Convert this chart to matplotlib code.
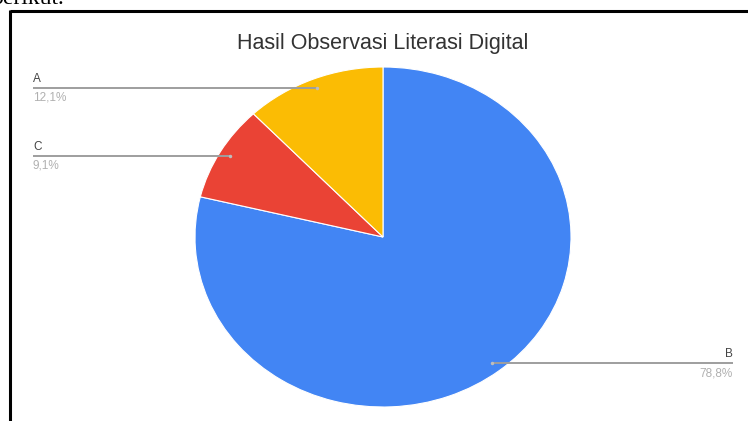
import numpy as np
import matplotlib
matplotlib.use("Agg")
import matplotlib.pyplot as plt

title = "Hasil Observasi Literasi Digital"
categories = ["B", "C", "A"]
values = [78.8, 9.1, 12.1]
pct_labels = ["78,8%", "9,1%", "12,1%"]
colors = ["#4285f4", "#ea4335", "#fbbc04"]

W, H = 748, 421
fig = plt.figure(figsize=(W / 100, H / 100), dpi=100)
fig.patch.set_facecolor("white")

# pie axes (ellipse due to stretched screenshot)
cx, cy, rx, ry = 383, 237, 188, 170
axp = fig.add_axes([(cx - rx) / W, (H - cy - ry) / H, 2 * rx / W, 2 * ry / H])
wedges, _ = axp.pie(values, colors=colors, startangle=90, counterclock=False,
                    wedgeprops=dict(edgecolor="white", linewidth=0.8))
axp.set_aspect("auto")
axp.set_xlim(-1, 1)
axp.set_ylim(-1, 1)
axp.axis("off")

# overlay in pixel coordinates
ov = fig.add_axes([0, 0, 1, 1], zorder=5)
ov.set_xlim(0, W)
ov.set_ylim(H, 0)
ov.axis("off")
ov.patch.set_alpha(0)

fam = ["Liberation Sans", "DejaVu Sans"]
ov.text(cx, 43, title, ha="center", va="center", fontsize=15.5, color="#333333", family=fam)

# label anchors: (x end of line, y of line, side)
label_pos = {"A": (33, 87.5, "left"), "C": (33, 156, "left"), "B": (733, 363, "right")}

total = sum(values)
start = 90.0
fig.canvas.draw()
for cat, v, pct in zip(categories, values, pct_labels):
    ang = start - v / total * 360 / 2
    start -= v / total * 360
    px, py = 0.94 * np.cos(np.radians(ang)), 0.94 * np.sin(np.radians(ang))
    dx, dy = axp.transData.transform((px, py))
    x0 = dx
    lx, ly, side = label_pos[cat]
    ov.plot([x0, lx], [ly, ly], color="#9e9e9e", lw=1.4, solid_capstyle="butt")
    ov.plot([x0], [ly], "o", ms=2.5, color="#bdbdbd", mec="none")
    ha = "left" if side == "left" else "right"
    ov.text(lx, ly - 9, cat, ha=ha, va="center", fontsize=8.5, color="#444444", family=fam)
    ov.text(lx, ly + 10, pct, ha=ha, va="center", fontsize=8.5, color="#b0b0b0", family=fam)

# screenshot frame and cut-off text above
ov.plot([10, W], [11, 11], color="black", lw=2.2, solid_capstyle="butt")
ov.plot([10, 10], [10, H], color="black", lw=2.2, solid_capstyle="butt")
ov.text(-8, 4, "berikut.", ha="left", va="baseline", fontsize=17,
        family=["Liberation Serif", "DejaVu Serif"], color="black")

fig.savefig("out.png", dpi=100)
